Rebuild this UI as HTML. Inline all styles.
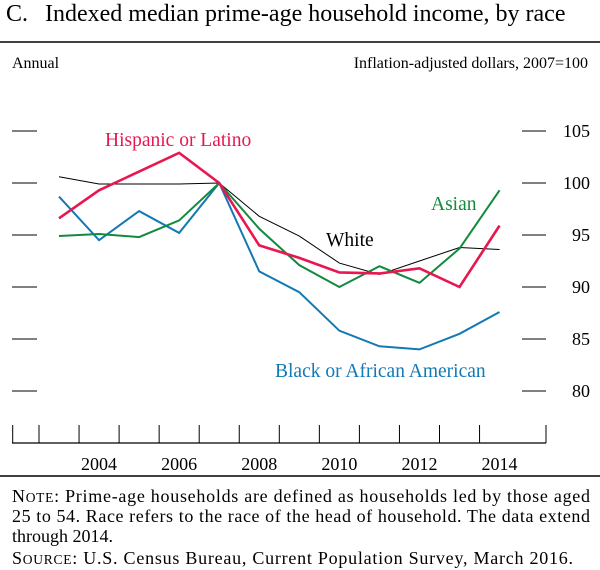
<!DOCTYPE html>
<html><head><meta charset="utf-8"><style>
body{margin:0;background:#fff;}
svg, svg text{font-family:"Liberation Serif","Times New Roman",serif;}
svg{display:block;}
</style></head><body>
<svg width="600" height="570" viewBox="0 0 600 570" font-family="Liberation Serif, serif">
<text x="6" y="21" font-size="24"><tspan>C.</tspan><tspan x="45">Indexed median prime-age household income, by race</tspan></text>
<line x1="0" y1="42" x2="600" y2="42" stroke="#000" stroke-width="1.5"/>
<text x="12" y="68" font-size="16">Annual</text>
<text x="588" y="68" font-size="16" text-anchor="end">Inflation-adjusted dollars, 2007=100</text>
<g id="axes"></g>
<g id="series"></g>
<text x="105" y="146" font-size="19.5" fill="#e8174f">Hispanic or Latino</text>
<text x="431" y="210" font-size="19.5" fill="#118a3e">Asian</text>
<text x="326" y="246" font-size="19.5" fill="#000">White</text>
<text x="275" y="377" font-size="19.5" fill="#1279b5">Black or African American</text>
<line x1="0" y1="476" x2="600" y2="476" stroke="#000" stroke-width="1.5"/>
<g font-size="18">
<text x="12" y="502" textLength="578" lengthAdjust="spacing">N<tspan font-size="13.5">OTE</tspan>:  Prime-age households are defined as households led by those aged</text>
<text x="12" y="522" textLength="578" lengthAdjust="spacing">25 to 54. Race refers to the race of the head of household. The data extend</text>
<text x="12" y="542">through 2014.</text>
<text x="12" y="564" textLength="561" lengthAdjust="spacing">S<tspan font-size="13.5">OURCE</tspan>:  U.S. Census Bureau, Current Population Survey, March 2016.</text>
</g>
</svg>
<script>
const years=[2003,2004,2005,2006,2007,2008,2009,2010,2011,2012,2013,2014];
const hispanic=[96.6,99.3,101.1,102.9,100,94.0,92.8,91.4,91.3,91.8,90.0,95.9];
const white=[100.6,99.9,99.9,99.9,100,96.8,94.9,92.3,91.2,92.5,93.8,93.6];
const asian=[94.9,95.1,94.8,96.4,100,95.6,92.1,90.0,92.0,90.4,93.7,99.3];
const black=[98.7,94.5,97.3,95.2,100,91.5,89.5,85.8,84.3,84.0,85.5,87.6];
const yTicks=[80,85,90,95,100,105];
const xLabels=[2004,2006,2008,2010,2012,2014];
const NS="http://www.w3.org/2000/svg";
const xs=y=>59+(y-2003)*40.05;
const ys=v=>183-(v-100)*10.4;
function mk(t,a,p){const e=document.createElementNS(NS,t);for(const k in a)e.setAttribute(k,a[k]);p.appendChild(e);return e;}
const ax=document.getElementById('axes');
const xa=mk('line',{x1:12,y1:443,x2:546,y2:443,stroke:'#000','stroke-width':1.2},ax);


for(let i=0;i<=13;i++){const x=i==0?12.7:(i==13?546:39+(i-1)*40.05);const t=mk('line',{x1:x,y1:443,x2:x,y2:425,stroke:'#000','stroke-width':1},ax);

}
yTicks.forEach(v=>{const y=ys(v);
const a=mk('line',{x1:12,y1:y,x2:37,y2:y,stroke:'#000','stroke-width':1},ax);


const b=mk('line',{x1:522,y1:y,x2:546,y2:y,stroke:'#000','stroke-width':1},ax);


const t=mk('text',{x:590,y:y+6,'font-size':18,'text-anchor':'end'},ax);t.textContent=v;

});
xLabels.forEach(yr=>{const t=mk('text',{x:xs(yr),y:470,'font-size':18,'text-anchor':'middle'},ax);t.textContent=yr;

});
const sg=document.getElementById('series');
function line(d,c,w,n){const p=mk('polyline',{points:d.map((v,i)=>xs(years[i])+','+ys(v)).join(' '),fill:'none',stroke:c,'stroke-width':w,'stroke-linejoin':'miter'},sg);

}
line(white,'#000',1,'white-line');
line(black,'#1279b5',2,'black-line');
line(asian,'#118a3e',2,'asian-line');
line(hispanic,'#e8174f',2.6,'hispanic-line');
</script>
</body></html>
